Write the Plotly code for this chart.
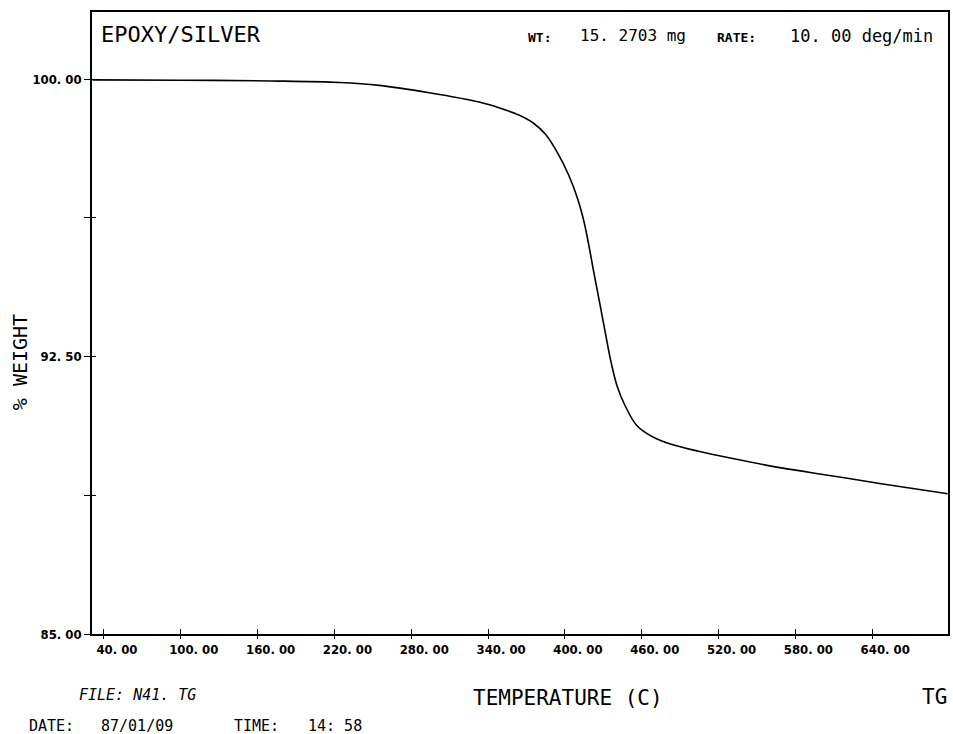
import plotly.graph_objects as go

# ---- data ----
temperature_c = [31, 100, 170, 224, 255, 294, 333, 349, 364, 375, 385, 395, 403, 410,
                 415, 419, 422, 426.5, 431.7, 435.6, 440.8, 447.3, 456.3, 468, 483.6,
                 504.4, 530, 569, 608, 647, 699]
weight_pct = [99.98, 99.97, 99.95, 99.91, 99.83, 99.63, 99.38, 99.22, 99.03, 98.82,
              98.50, 97.96, 97.40, 96.76, 96.13, 95.45, 94.88, 94.07, 93.12, 92.42,
              91.70, 91.15, 90.63, 90.34, 90.12, 89.94, 89.75, 89.49, 89.28, 89.06,
              88.79]

x_tick_vals = [40, 100, 160, 220, 280, 340, 400, 460, 520, 580, 640]
x_tick_text = ["40. 00", "100. 00", "160. 00", "220. 00", "280. 00", "340. 00",
               "400. 00", "460. 00", "520. 00", "580. 00", "640. 00"]
y_tick_vals = [85.0, 88.75, 92.5, 96.25, 100.0]
y_tick_text = ["85. 00", "", "92. 50", "", "100. 00"]

X_RANGE = [30.65, 699.2]
Y_RANGE = [85.0, 101.814]

W, H = 953, 734
ML, MR, MT, MB = 92, 3, 12, 100
PW, PH = W - ML - MR, H - MT - MB

MONO = "DejaVu Sans Mono, Liberation Mono, monospace"
NARROW = "Liberation Sans Narrow, DejaVu Sans Condensed, Arial Narrow, sans-serif"


def px_x(p):
    return (p - ML) / PW


def px_y(p):
    return (H - MB - p) / PH


fig = go.Figure()
fig.add_trace(go.Scatter(x=temperature_c, y=weight_pct, mode="lines",
                         line=dict(color="black", width=1.6, shape="spline", smoothing=1.0),
                         hoverinfo="x+y", showlegend=False))
# invisible copy on overlay axes so the inner half of the tick marks is drawn
fig.add_trace(go.Scatter(x=temperature_c, y=weight_pct, mode="lines", xaxis="x2", yaxis="y2",
                         line=dict(color="black", width=1), opacity=0,
                         hoverinfo="skip", showlegend=False))

tick_font = dict(family=NARROW, size=13, color="black", weight="bold")

fig.update_layout(
    width=W, height=H,
    margin=dict(l=ML, r=MR, t=MT, b=MB),
    paper_bgcolor="white", plot_bgcolor="white",
    xaxis=dict(range=X_RANGE, tickvals=x_tick_vals, ticktext=x_tick_text,
               ticks="outside", ticklen=3, tickwidth=1.2, tickcolor="black",
               showline=True, linecolor="black", linewidth=1.5, mirror=True,
               showgrid=False, zeroline=False, ticklabelshift=13,
               tickfont=tick_font),
    yaxis=dict(range=Y_RANGE, tickvals=y_tick_vals, ticktext=y_tick_text,
               ticks="outside", ticklen=6, tickwidth=1.2, tickcolor="black",
               showline=True, linecolor="black", linewidth=1.5, mirror=True,
               showgrid=False, zeroline=False, tickfont=tick_font),
    xaxis2=dict(range=X_RANGE, overlaying="x", side="bottom", anchor="y2",
                tickvals=x_tick_vals, showticklabels=False,
                ticks="inside", ticklen=5, tickwidth=1.2, tickcolor="black",
                showline=False, showgrid=False, zeroline=False),
    yaxis2=dict(range=Y_RANGE, overlaying="y", side="left", anchor="x2",
                tickvals=y_tick_vals, showticklabels=False,
                ticks="inside", ticklen=4, tickwidth=1.2, tickcolor="black",
                showline=False, showgrid=False, zeroline=False),
)

ann = []


def text(s, px, py, size, family=MONO, anchor="left", angle=0, color="black"):
    ann.append(dict(text=s, xref="paper", yref="paper", x=px_x(px), y=px_y(py),
                    xanchor=anchor, yanchor="middle", showarrow=False, textangle=angle,
                    font=dict(family=family, size=size, color=color)))


text("EPOXY/SILVER", 99, 35, 22)
text("<b>WT:</b>", 527, 37, 13)
text("15. 2703 mg", 579, 36, 16)
text("<b>RATE:</b>", 716, 37, 13)
text("10. 00 deg/min", 790, 36, 17)
text("% WEIGHT", 20, 362, 20, angle=-90, anchor="center")
text("TEMPERATURE (C)", 472, 698, 21)
text("TG", 922, 697, 21)
text("<i>FILE: N41. TG</i>", 77, 695, 15)
text("DATE:", 27, 726, 15)
text("87/01/09", 99, 726, 15)
text("TIME:", 232, 726, 15)
text("14: 58", 306, 726, 15)

fig.update_layout(annotations=ann)
fig.write_html("out.html", config={"displayModeBar": False},
               post_script="document.body.style.margin='0px';")
